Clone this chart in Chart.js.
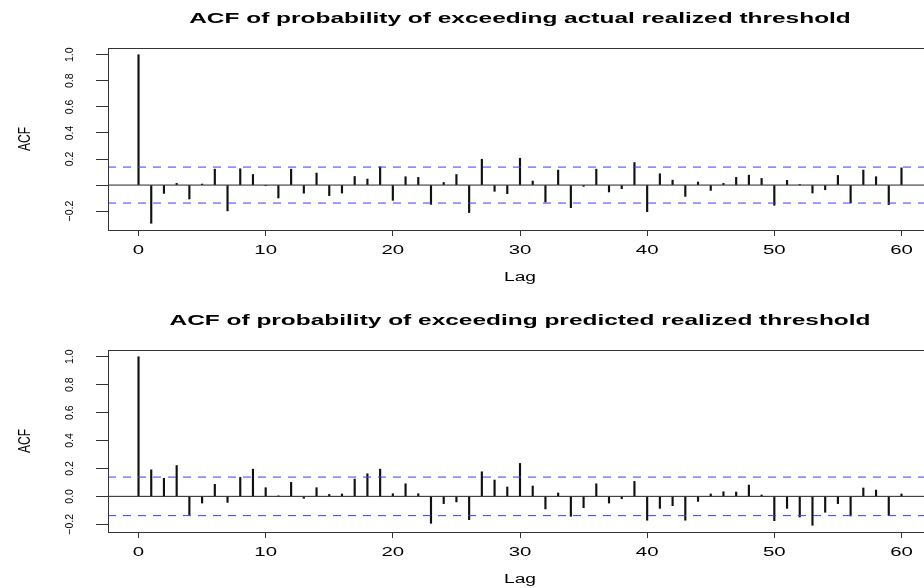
<!DOCTYPE html>
<html>
<head>
<meta charset="utf-8">
<script src="https://cdn.jsdelivr.net/npm/chart.js@4.4.1/dist/chart.umd.min.js"></script>
<style>
  html, body { margin: 0; padding: 0; background: #fff; }
  body { width: 924px; height: 588px; overflow: hidden; position: relative; }
  .panel { position: absolute; left: 0; width: 940px; height: 294px; }
  #panelTop { top: 0; }
  #panelBottom { top: 302px; }
</style>
</head>
<body>
<div class="panel" id="panelTop"><canvas id="chartTop" width="940" height="294"></canvas></div>
<div class="panel" id="panelBottom"><canvas id="chartBottom" width="940" height="294"></canvas></div>
<script>
// Lags 0..60
const lags = [
  0, 1, 2, 3, 4, 5, 6, 7, 8, 9, 10, 11, 12, 13, 14, 15, 16, 17, 18, 19, 20,
  21, 22, 23, 24, 25, 26, 27, 28, 29, 30, 31, 32, 33, 34, 35, 36, 37, 38, 39, 40,
  41, 42, 43, 44, 45, 46, 47, 48, 49, 50, 51, 52, 53, 54, 55, 56, 57, 58, 59, 60
];

// ACF obere Grafik (actual realized threshold)
const acfActual = [
  1.000, -0.293, -0.064, 0.013, -0.107, 0.008, 0.122, -0.198, 0.125, 0.081, -0.005,
  -0.099, 0.122, -0.062, 0.092, -0.081, -0.061, 0.066, 0.046, 0.140, -0.117,
  0.064, 0.059, -0.148, 0.020, 0.081, -0.211, 0.198, -0.048, -0.066, 0.206,
  0.031, -0.130, 0.115, -0.173, -0.010, 0.122, -0.053, -0.028, 0.173, -0.204,
  0.087, 0.038, -0.087, 0.023, -0.041, 0.013, 0.059, 0.076, 0.051, -0.155,
  0.036, 0.002, -0.061, -0.036, 0.074, -0.137, 0.115, 0.064, -0.150, 0.132
];

// ACF untere Grafik (predicted realized threshold)
const acfPredicted = [
  1.000, 0.190, 0.129, 0.221, -0.131, -0.048, 0.086, -0.043, 0.136, 0.195, 0.062,
  0.002, 0.100, -0.014, 0.062, 0.014, 0.017, 0.124, 0.162, 0.195, 0.019,
  0.090, 0.019, -0.193, -0.052, -0.040, -0.167, 0.176, 0.117, 0.067, 0.236,
  0.074, -0.090, 0.024, -0.143, -0.081, 0.090, -0.048, -0.017, 0.107, -0.171,
  -0.086, -0.067, -0.171, -0.036, 0.017, 0.033, 0.031, 0.081, 0.010, -0.174,
  -0.086, -0.148, -0.207, -0.114, -0.052, -0.140, 0.060, 0.045, -0.136, 0.017
];

// Konfidenzgrenze (blaue gestrichelte Linien)
const ciBound = 0.138;

const xTickValues = [0, 10, 20, 30, 40, 50, 60];
const xTickLabels = ["0", "10", "20", "30", "40", "50", "60"];
const yTickValues = [-0.2, 0, 0.2, 0.4, 0.6, 0.8, 1.0];
const yTickLabelsTop = ["\u22120.2", "", "0.2", "0.4", "0.6", "0.8", "1.0"];
const yTickLabelsBottom = ["\u22120.2", "0.0", "0.2", "0.4", "0.6", "0.8", "1.0"];

const titleTop = "ACF of probability of exceeding actual realized threshold";
const titleBottom = "ACF of probability of exceeding predicted realized threshold";
const xAxisTitle = "Lag";
const yAxisTitle = "ACF";

const FONT = "'Liberation Sans', Arial, Helvetica, sans-serif";

// Text horizontal gestreckt zeichnen (wie im R-Bild)
function stretchText(ctx, text, x, y, sx, font) {
  ctx.save();
  ctx.font = font;
  ctx.fillStyle = "#000";
  ctx.textAlign = "center";
  ctx.textBaseline = "alphabetic";
  ctx.translate(x, y);
  ctx.scale(sx, 1);
  ctx.fillText(text, 0, 0);
  ctx.restore();
}

function textPlugin(title, yLabels) {
  return {
    id: "rText",
    afterDraw(chart) {
      const ctx = chart.ctx;
      const area = chart.chartArea;
      const xs = chart.scales.x;
      const ys = chart.scales.y;

      // Rahmen um den Plotbereich
      ctx.save();
      ctx.strokeStyle = "#333";
      ctx.lineWidth = 1;
      ctx.strokeRect(Math.round(area.left) + 0.5, Math.round(area.top) + 0.5,
        Math.round(area.right - area.left), Math.round(area.bottom - area.top));
      ctx.restore();

      const cx = (area.left + area.right) / 2;
      stretchText(ctx, title, cx, 22.8, 1.63, "bold 15px " + FONT);

      xTickValues.forEach((v, i) => {
        stretchText(ctx, xTickLabels[i], xs.getPixelForValue(v), 254, 1.7, "12px " + FONT);
      });
      stretchText(ctx, xAxisTitle, cx, 281, 1.6, "12px " + FONT);

      // y-Beschriftung senkrecht
      yTickValues.forEach((v, i) => {
        if (!yLabels[i]) return;
        ctx.save();
        ctx.font = "10.5px " + FONT;
        ctx.fillStyle = "#000";
        ctx.textAlign = "center";
        ctx.textBaseline = "alphabetic";
        ctx.translate(72.5, ys.getPixelForValue(v));
        ctx.rotate(-Math.PI / 2);
        ctx.scale(1, 1.1);
        ctx.fillText(yLabels[i], 0, 0);
        ctx.restore();
      });

      ctx.save();
      ctx.font = "12px " + FONT;
      ctx.fillStyle = "#000";
      ctx.textAlign = "center";
      ctx.textBaseline = "alphabetic";
      ctx.translate(30, (area.top + area.bottom) / 2);
      ctx.rotate(-Math.PI / 2);
      ctx.scale(1, 1.35);
      ctx.fillText(yAxisTitle, 0, 0);
      ctx.restore();
    },
  };
}

function drawAcf(canvasId, values, title, yLabels) {
  const xPad = 0.04 * (lags[lags.length - 1] - lags[0]);
  const xMin = lags[0] - xPad;
  const xMax = lags[lags.length - 1] + xPad;
  const lo = Math.min(...values, -ciBound);
  const hi = Math.max(...values, ciBound);
  const yPad = 0.04 * (hi - lo);

  const ctx = document.getElementById(canvasId).getContext("2d");
  new Chart(ctx, {
    type: "bar",
    data: {
      datasets: [
        {
          type: "line",
          data: [{ x: xMin, y: ciBound }, { x: xMax, y: ciBound }],
          borderColor: "#3c3cff",
          borderWidth: 1,
          borderDash: [8, 7],
          pointRadius: 0,
          order: 1,
        },
        {
          type: "line",
          data: [{ x: xMin, y: -ciBound }, { x: xMax, y: -ciBound }],
          borderColor: "#3c3cff",
          borderWidth: 1,
          borderDash: [8, 7],
          pointRadius: 0,
          order: 1,
        },
        {
          type: "line",
          data: [{ x: xMin, y: 0 }, { x: xMax, y: 0 }],
          borderColor: "#222",
          borderWidth: 1,
          pointRadius: 0,
          order: 2,
        },
        {
          type: "bar",
          data: lags.map((l, i) => ({ x: l, y: values[i] })),
          backgroundColor: "#111",
          borderWidth: 0,
          barThickness: 1.5,
          order: 3,
        },
      ],
    },
    options: {
      responsive: false,
      animation: false,
      devicePixelRatio: 1,
      events: [],
      layout: { padding: { top: 48, right: 8, left: 0, bottom: 0 } },
      scales: {
        x: {
          type: "linear",
          min: xMin,
          max: xMax,
          offset: false,
          afterBuildTicks: (s) => { s.ticks = xTickValues.map((v) => ({ value: v })); },
          afterFit: (s) => { s.height = 64; },
          ticks: { display: false },
          grid: { drawOnChartArea: false, drawTicks: true, tickLength: 6, color: "#333", offset: false },
          border: { display: false },
        },
        y: {
          type: "linear",
          min: lo - yPad,
          max: hi + yPad,
          afterBuildTicks: (s) => { s.ticks = yTickValues.map((v) => ({ value: v })); },
          afterFit: (s) => { s.width = 108; },
          ticks: { display: false },
          grid: { drawOnChartArea: false, drawTicks: true, tickLength: 12, color: "#333" },
          border: { display: false },
        },
      },
      plugins: {
        legend: { display: false },
        tooltip: { enabled: false },
        title: { display: false },
      },
    },
    plugins: [textPlugin(title, yLabels)],
  });
}

drawAcf("chartTop", acfActual, titleTop, yTickLabelsTop);
drawAcf("chartBottom", acfPredicted, titleBottom, yTickLabelsBottom);
</script>
</body>
</html>
